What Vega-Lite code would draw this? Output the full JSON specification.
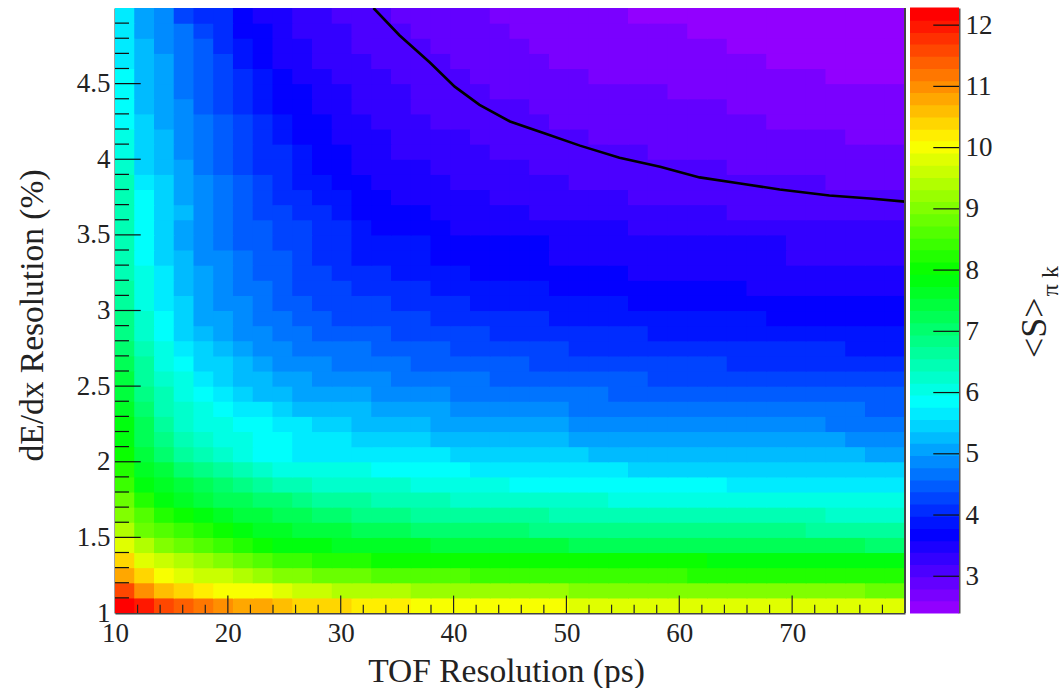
{"$schema":"https://vega.github.io/schema/vega-lite/v6.json","padding":{"left":15,"top":7,"right":0,"bottom":0},"background":"white","spacing":4,"config":{"view":{"stroke":null},"font":"Liberation Serif"},"datasets":{"cells":[
{"x":10.875,"y":1.05,"z":12.2},{"x":12.625,"y":1.05,"z":12},{"x":14.375,"y":1.05,"z":11.6},{"x":16.125,"y":1.05,"z":11.4},{"x":17.875,"y":1.05,"z":11.2},{"x":19.625,"y":1.05,"z":11},{"x":21.375,"y":1.05,"z":10.8},{"x":23.125,"y":1.05,"z":10.8},{"x":24.875,"y":1.05,"z":10.6},{"x":26.625,"y":1.05,"z":10.5},{"x":28.375,"y":1.05,"z":10.5},{"x":30.125,"y":1.05,"z":10.5},{"x":31.875,"y":1.05,"z":10.3},{"x":33.625,"y":1.05,"z":10.3},{"x":35.375,"y":1.05,"z":10.3},{"x":37.125,"y":1.05,"z":10.1},{"x":38.875,"y":1.05,"z":10.1},{"x":40.625,"y":1.05,"z":10.1},{"x":42.375,"y":1.05,"z":10.1},{"x":44.125,"y":1.05,"z":10.1},{"x":45.875,"y":1.05,"z":10.1},{"x":47.625,"y":1.05,"z":10.1},{"x":49.375,"y":1.05,"z":10.1},{"x":51.125,"y":1.05,"z":9.9},{"x":52.875,"y":1.05,"z":9.9},{"x":54.625,"y":1.05,"z":9.9},{"x":56.375,"y":1.05,"z":9.9},{"x":58.125,"y":1.05,"z":9.9},{"x":59.875,"y":1.05,"z":9.9},{"x":61.625,"y":1.05,"z":9.9},{"x":63.375,"y":1.05,"z":9.9},{"x":65.125,"y":1.05,"z":9.9},{"x":66.875,"y":1.05,"z":9.9},{"x":68.625,"y":1.05,"z":9.9},{"x":70.375,"y":1.05,"z":9.9},{"x":72.125,"y":1.05,"z":9.9},{"x":73.875,"y":1.05,"z":9.9},{"x":75.625,"y":1.05,"z":9.9},{"x":77.375,"y":1.05,"z":9.9},{"x":79.125,"y":1.05,"z":9.9},
{"x":10.875,"y":1.15,"z":11.6},{"x":12.625,"y":1.15,"z":11},{"x":14.375,"y":1.15,"z":10.6},{"x":16.125,"y":1.15,"z":10.5},{"x":17.875,"y":1.15,"z":10.3},{"x":19.625,"y":1.15,"z":10.1},{"x":21.375,"y":1.15,"z":10.1},{"x":23.125,"y":1.15,"z":10.1},{"x":24.875,"y":1.15,"z":9.9},{"x":26.625,"y":1.15,"z":9.7},{"x":28.375,"y":1.15,"z":9.7},{"x":30.125,"y":1.15,"z":9.5},{"x":31.875,"y":1.15,"z":9.5},{"x":33.625,"y":1.15,"z":9.5},{"x":35.375,"y":1.15,"z":9.5},{"x":37.125,"y":1.15,"z":9.3},{"x":38.875,"y":1.15,"z":9.3},{"x":40.625,"y":1.15,"z":9.3},{"x":42.375,"y":1.15,"z":9.3},{"x":44.125,"y":1.15,"z":9.3},{"x":45.875,"y":1.15,"z":9.3},{"x":47.625,"y":1.15,"z":9.3},{"x":49.375,"y":1.15,"z":9.3},{"x":51.125,"y":1.15,"z":9.1},{"x":52.875,"y":1.15,"z":9.1},{"x":54.625,"y":1.15,"z":9.1},{"x":56.375,"y":1.15,"z":9.1},{"x":58.125,"y":1.15,"z":9.1},{"x":59.875,"y":1.15,"z":9.1},{"x":61.625,"y":1.15,"z":9.1},{"x":63.375,"y":1.15,"z":9.1},{"x":65.125,"y":1.15,"z":9.1},{"x":66.875,"y":1.15,"z":9.1},{"x":68.625,"y":1.15,"z":9.1},{"x":70.375,"y":1.15,"z":9.1},{"x":72.125,"y":1.15,"z":9.1},{"x":73.875,"y":1.15,"z":9.1},{"x":75.625,"y":1.15,"z":9.1},{"x":77.375,"y":1.15,"z":8.9},{"x":79.125,"y":1.15,"z":8.9},
{"x":10.875,"y":1.25,"z":10.8},{"x":12.625,"y":1.25,"z":10.5},{"x":14.375,"y":1.25,"z":10.1},{"x":16.125,"y":1.25,"z":9.9},{"x":17.875,"y":1.25,"z":9.7},{"x":19.625,"y":1.25,"z":9.7},{"x":21.375,"y":1.25,"z":9.5},{"x":23.125,"y":1.25,"z":9.3},{"x":24.875,"y":1.25,"z":9.1},{"x":26.625,"y":1.25,"z":9.1},{"x":28.375,"y":1.25,"z":8.9},{"x":30.125,"y":1.25,"z":8.9},{"x":31.875,"y":1.25,"z":8.9},{"x":33.625,"y":1.25,"z":8.7},{"x":35.375,"y":1.25,"z":8.7},{"x":37.125,"y":1.25,"z":8.7},{"x":38.875,"y":1.25,"z":8.7},{"x":40.625,"y":1.25,"z":8.7},{"x":42.375,"y":1.25,"z":8.5},{"x":44.125,"y":1.25,"z":8.5},{"x":45.875,"y":1.25,"z":8.5},{"x":47.625,"y":1.25,"z":8.5},{"x":49.375,"y":1.25,"z":8.5},{"x":51.125,"y":1.25,"z":8.5},{"x":52.875,"y":1.25,"z":8.5},{"x":54.625,"y":1.25,"z":8.5},{"x":56.375,"y":1.25,"z":8.5},{"x":58.125,"y":1.25,"z":8.5},{"x":59.875,"y":1.25,"z":8.5},{"x":61.625,"y":1.25,"z":8.3},{"x":63.375,"y":1.25,"z":8.3},{"x":65.125,"y":1.25,"z":8.3},{"x":66.875,"y":1.25,"z":8.3},{"x":68.625,"y":1.25,"z":8.3},{"x":70.375,"y":1.25,"z":8.3},{"x":72.125,"y":1.25,"z":8.3},{"x":73.875,"y":1.25,"z":8.3},{"x":75.625,"y":1.25,"z":8.3},{"x":77.375,"y":1.25,"z":8.3},{"x":79.125,"y":1.25,"z":8.3},
{"x":10.875,"y":1.35,"z":10.5},{"x":12.625,"y":1.35,"z":9.9},{"x":14.375,"y":1.35,"z":9.7},{"x":16.125,"y":1.35,"z":9.5},{"x":17.875,"y":1.35,"z":9.3},{"x":19.625,"y":1.35,"z":9.1},{"x":21.375,"y":1.35,"z":8.9},{"x":23.125,"y":1.35,"z":8.7},{"x":24.875,"y":1.35,"z":8.5},{"x":26.625,"y":1.35,"z":8.5},{"x":28.375,"y":1.35,"z":8.3},{"x":30.125,"y":1.35,"z":8.3},{"x":31.875,"y":1.35,"z":8.3},{"x":33.625,"y":1.35,"z":8.1},{"x":35.375,"y":1.35,"z":8.1},{"x":37.125,"y":1.35,"z":8.1},{"x":38.875,"y":1.35,"z":8.1},{"x":40.625,"y":1.35,"z":8.1},{"x":42.375,"y":1.35,"z":8.1},{"x":44.125,"y":1.35,"z":8.1},{"x":45.875,"y":1.35,"z":8.1},{"x":47.625,"y":1.35,"z":8.1},{"x":49.375,"y":1.35,"z":8.1},{"x":51.125,"y":1.35,"z":8.1},{"x":52.875,"y":1.35,"z":8.1},{"x":54.625,"y":1.35,"z":8.1},{"x":56.375,"y":1.35,"z":8.1},{"x":58.125,"y":1.35,"z":8.1},{"x":59.875,"y":1.35,"z":8.1},{"x":61.625,"y":1.35,"z":8.1},{"x":63.375,"y":1.35,"z":7.9},{"x":65.125,"y":1.35,"z":7.9},{"x":66.875,"y":1.35,"z":7.9},{"x":68.625,"y":1.35,"z":7.9},{"x":70.375,"y":1.35,"z":7.9},{"x":72.125,"y":1.35,"z":7.9},{"x":73.875,"y":1.35,"z":7.9},{"x":75.625,"y":1.35,"z":7.9},{"x":77.375,"y":1.35,"z":7.9},{"x":79.125,"y":1.35,"z":7.9},
{"x":10.875,"y":1.45,"z":9.9},{"x":12.625,"y":1.45,"z":9.5},{"x":14.375,"y":1.45,"z":9.1},{"x":16.125,"y":1.45,"z":8.9},{"x":17.875,"y":1.45,"z":8.7},{"x":19.625,"y":1.45,"z":8.5},{"x":21.375,"y":1.45,"z":8.3},{"x":23.125,"y":1.45,"z":8.1},{"x":24.875,"y":1.45,"z":7.9},{"x":26.625,"y":1.45,"z":7.9},{"x":28.375,"y":1.45,"z":7.9},{"x":30.125,"y":1.45,"z":7.7},{"x":31.875,"y":1.45,"z":7.7},{"x":33.625,"y":1.45,"z":7.7},{"x":35.375,"y":1.45,"z":7.7},{"x":37.125,"y":1.45,"z":7.7},{"x":38.875,"y":1.45,"z":7.5},{"x":40.625,"y":1.45,"z":7.5},{"x":42.375,"y":1.45,"z":7.5},{"x":44.125,"y":1.45,"z":7.5},{"x":45.875,"y":1.45,"z":7.5},{"x":47.625,"y":1.45,"z":7.5},{"x":49.375,"y":1.45,"z":7.5},{"x":51.125,"y":1.45,"z":7.3},{"x":52.875,"y":1.45,"z":7.3},{"x":54.625,"y":1.45,"z":7.3},{"x":56.375,"y":1.45,"z":7.3},{"x":58.125,"y":1.45,"z":7.3},{"x":59.875,"y":1.45,"z":7.3},{"x":61.625,"y":1.45,"z":7.3},{"x":63.375,"y":1.45,"z":7.3},{"x":65.125,"y":1.45,"z":7.3},{"x":66.875,"y":1.45,"z":7.3},{"x":68.625,"y":1.45,"z":7.3},{"x":70.375,"y":1.45,"z":7.3},{"x":72.125,"y":1.45,"z":7.3},{"x":73.875,"y":1.45,"z":7.3},{"x":75.625,"y":1.45,"z":7.3},{"x":77.375,"y":1.45,"z":7.1},{"x":79.125,"y":1.45,"z":7.1},
{"x":10.875,"y":1.55,"z":9.5},{"x":12.625,"y":1.55,"z":8.9},{"x":14.375,"y":1.55,"z":8.7},{"x":16.125,"y":1.55,"z":8.5},{"x":17.875,"y":1.55,"z":8.3},{"x":19.625,"y":1.55,"z":8.1},{"x":21.375,"y":1.55,"z":7.9},{"x":23.125,"y":1.55,"z":7.7},{"x":24.875,"y":1.55,"z":7.7},{"x":26.625,"y":1.55,"z":7.5},{"x":28.375,"y":1.55,"z":7.5},{"x":30.125,"y":1.55,"z":7.5},{"x":31.875,"y":1.55,"z":7.3},{"x":33.625,"y":1.55,"z":7.3},{"x":35.375,"y":1.55,"z":7.3},{"x":37.125,"y":1.55,"z":7.1},{"x":38.875,"y":1.55,"z":7.1},{"x":40.625,"y":1.55,"z":7.1},{"x":42.375,"y":1.55,"z":7.1},{"x":44.125,"y":1.55,"z":7.1},{"x":45.875,"y":1.55,"z":7.1},{"x":47.625,"y":1.55,"z":6.9},{"x":49.375,"y":1.55,"z":6.9},{"x":51.125,"y":1.55,"z":6.9},{"x":52.875,"y":1.55,"z":6.9},{"x":54.625,"y":1.55,"z":6.9},{"x":56.375,"y":1.55,"z":6.9},{"x":58.125,"y":1.55,"z":6.9},{"x":59.875,"y":1.55,"z":6.9},{"x":61.625,"y":1.55,"z":6.9},{"x":63.375,"y":1.55,"z":6.9},{"x":65.125,"y":1.55,"z":6.9},{"x":66.875,"y":1.55,"z":6.9},{"x":68.625,"y":1.55,"z":6.9},{"x":70.375,"y":1.55,"z":6.9},{"x":72.125,"y":1.55,"z":6.7},{"x":73.875,"y":1.55,"z":6.7},{"x":75.625,"y":1.55,"z":6.7},{"x":77.375,"y":1.55,"z":6.7},{"x":79.125,"y":1.55,"z":6.7},
{"x":10.875,"y":1.65,"z":9.1},{"x":12.625,"y":1.65,"z":8.7},{"x":14.375,"y":1.65,"z":8.3},{"x":16.125,"y":1.65,"z":8.1},{"x":17.875,"y":1.65,"z":7.9},{"x":19.625,"y":1.65,"z":7.7},{"x":21.375,"y":1.65,"z":7.5},{"x":23.125,"y":1.65,"z":7.5},{"x":24.875,"y":1.65,"z":7.3},{"x":26.625,"y":1.65,"z":7.3},{"x":28.375,"y":1.65,"z":7.1},{"x":30.125,"y":1.65,"z":7.1},{"x":31.875,"y":1.65,"z":6.9},{"x":33.625,"y":1.65,"z":6.9},{"x":35.375,"y":1.65,"z":6.9},{"x":37.125,"y":1.65,"z":6.7},{"x":38.875,"y":1.65,"z":6.7},{"x":40.625,"y":1.65,"z":6.7},{"x":42.375,"y":1.65,"z":6.7},{"x":44.125,"y":1.65,"z":6.7},{"x":45.875,"y":1.65,"z":6.7},{"x":47.625,"y":1.65,"z":6.7},{"x":49.375,"y":1.65,"z":6.5},{"x":51.125,"y":1.65,"z":6.5},{"x":52.875,"y":1.65,"z":6.5},{"x":54.625,"y":1.65,"z":6.5},{"x":56.375,"y":1.65,"z":6.5},{"x":58.125,"y":1.65,"z":6.5},{"x":59.875,"y":1.65,"z":6.5},{"x":61.625,"y":1.65,"z":6.5},{"x":63.375,"y":1.65,"z":6.5},{"x":65.125,"y":1.65,"z":6.5},{"x":66.875,"y":1.65,"z":6.5},{"x":68.625,"y":1.65,"z":6.5},{"x":70.375,"y":1.65,"z":6.5},{"x":72.125,"y":1.65,"z":6.5},{"x":73.875,"y":1.65,"z":6.3},{"x":75.625,"y":1.65,"z":6.3},{"x":77.375,"y":1.65,"z":6.3},{"x":79.125,"y":1.65,"z":6.3},
{"x":10.875,"y":1.75,"z":8.9},{"x":12.625,"y":1.75,"z":8.3},{"x":14.375,"y":1.75,"z":7.9},{"x":16.125,"y":1.75,"z":7.7},{"x":17.875,"y":1.75,"z":7.5},{"x":19.625,"y":1.75,"z":7.3},{"x":21.375,"y":1.75,"z":7.3},{"x":23.125,"y":1.75,"z":7.1},{"x":24.875,"y":1.75,"z":7.1},{"x":26.625,"y":1.75,"z":6.9},{"x":28.375,"y":1.75,"z":6.7},{"x":30.125,"y":1.75,"z":6.7},{"x":31.875,"y":1.75,"z":6.7},{"x":33.625,"y":1.75,"z":6.5},{"x":35.375,"y":1.75,"z":6.5},{"x":37.125,"y":1.75,"z":6.5},{"x":38.875,"y":1.75,"z":6.5},{"x":40.625,"y":1.75,"z":6.3},{"x":42.375,"y":1.75,"z":6.3},{"x":44.125,"y":1.75,"z":6.3},{"x":45.875,"y":1.75,"z":6.3},{"x":47.625,"y":1.75,"z":6.3},{"x":49.375,"y":1.75,"z":6.3},{"x":51.125,"y":1.75,"z":6.3},{"x":52.875,"y":1.75,"z":6.3},{"x":54.625,"y":1.75,"z":6.1},{"x":56.375,"y":1.75,"z":6.1},{"x":58.125,"y":1.75,"z":6.1},{"x":59.875,"y":1.75,"z":6.1},{"x":61.625,"y":1.75,"z":6.1},{"x":63.375,"y":1.75,"z":6.1},{"x":65.125,"y":1.75,"z":6.1},{"x":66.875,"y":1.75,"z":6.1},{"x":68.625,"y":1.75,"z":6.1},{"x":70.375,"y":1.75,"z":6.1},{"x":72.125,"y":1.75,"z":6.1},{"x":73.875,"y":1.75,"z":6.1},{"x":75.625,"y":1.75,"z":6.1},{"x":77.375,"y":1.75,"z":6.1},{"x":79.125,"y":1.75,"z":6.1},
{"x":10.875,"y":1.85,"z":8.5},{"x":12.625,"y":1.85,"z":7.9},{"x":14.375,"y":1.85,"z":7.7},{"x":16.125,"y":1.85,"z":7.5},{"x":17.875,"y":1.85,"z":7.3},{"x":19.625,"y":1.85,"z":7.1},{"x":21.375,"y":1.85,"z":6.9},{"x":23.125,"y":1.85,"z":6.7},{"x":24.875,"y":1.85,"z":6.5},{"x":26.625,"y":1.85,"z":6.5},{"x":28.375,"y":1.85,"z":6.3},{"x":30.125,"y":1.85,"z":6.3},{"x":31.875,"y":1.85,"z":6.3},{"x":33.625,"y":1.85,"z":6.3},{"x":35.375,"y":1.85,"z":6.3},{"x":37.125,"y":1.85,"z":6.1},{"x":38.875,"y":1.85,"z":6.1},{"x":40.625,"y":1.85,"z":6.1},{"x":42.375,"y":1.85,"z":6.1},{"x":44.125,"y":1.85,"z":6.1},{"x":45.875,"y":1.85,"z":5.9},{"x":47.625,"y":1.85,"z":5.9},{"x":49.375,"y":1.85,"z":5.9},{"x":51.125,"y":1.85,"z":5.9},{"x":52.875,"y":1.85,"z":5.9},{"x":54.625,"y":1.85,"z":5.9},{"x":56.375,"y":1.85,"z":5.9},{"x":58.125,"y":1.85,"z":5.9},{"x":59.875,"y":1.85,"z":5.9},{"x":61.625,"y":1.85,"z":5.9},{"x":63.375,"y":1.85,"z":5.9},{"x":65.125,"y":1.85,"z":5.7},{"x":66.875,"y":1.85,"z":5.7},{"x":68.625,"y":1.85,"z":5.7},{"x":70.375,"y":1.85,"z":5.7},{"x":72.125,"y":1.85,"z":5.7},{"x":73.875,"y":1.85,"z":5.7},{"x":75.625,"y":1.85,"z":5.7},{"x":77.375,"y":1.85,"z":5.7},{"x":79.125,"y":1.85,"z":5.7},
{"x":10.875,"y":1.95,"z":8.3},{"x":12.625,"y":1.95,"z":7.7},{"x":14.375,"y":1.95,"z":7.5},{"x":16.125,"y":1.95,"z":7.1},{"x":17.875,"y":1.95,"z":6.9},{"x":19.625,"y":1.95,"z":6.7},{"x":21.375,"y":1.95,"z":6.5},{"x":23.125,"y":1.95,"z":6.3},{"x":24.875,"y":1.95,"z":6.1},{"x":26.625,"y":1.95,"z":6.1},{"x":28.375,"y":1.95,"z":6.1},{"x":30.125,"y":1.95,"z":6.1},{"x":31.875,"y":1.95,"z":6.1},{"x":33.625,"y":1.95,"z":5.9},{"x":35.375,"y":1.95,"z":5.9},{"x":37.125,"y":1.95,"z":5.9},{"x":38.875,"y":1.95,"z":5.9},{"x":40.625,"y":1.95,"z":5.9},{"x":42.375,"y":1.95,"z":5.7},{"x":44.125,"y":1.95,"z":5.7},{"x":45.875,"y":1.95,"z":5.7},{"x":47.625,"y":1.95,"z":5.7},{"x":49.375,"y":1.95,"z":5.7},{"x":51.125,"y":1.95,"z":5.7},{"x":52.875,"y":1.95,"z":5.7},{"x":54.625,"y":1.95,"z":5.7},{"x":56.375,"y":1.95,"z":5.5},{"x":58.125,"y":1.95,"z":5.5},{"x":59.875,"y":1.95,"z":5.5},{"x":61.625,"y":1.95,"z":5.5},{"x":63.375,"y":1.95,"z":5.5},{"x":65.125,"y":1.95,"z":5.5},{"x":66.875,"y":1.95,"z":5.5},{"x":68.625,"y":1.95,"z":5.5},{"x":70.375,"y":1.95,"z":5.5},{"x":72.125,"y":1.95,"z":5.5},{"x":73.875,"y":1.95,"z":5.5},{"x":75.625,"y":1.95,"z":5.5},{"x":77.375,"y":1.95,"z":5.5},{"x":79.125,"y":1.95,"z":5.5},
{"x":10.875,"y":2.05,"z":8.1},{"x":12.625,"y":2.05,"z":7.5},{"x":14.375,"y":2.05,"z":7.1},{"x":16.125,"y":2.05,"z":6.7},{"x":17.875,"y":2.05,"z":6.5},{"x":19.625,"y":2.05,"z":6.3},{"x":21.375,"y":2.05,"z":6.1},{"x":23.125,"y":2.05,"z":5.9},{"x":24.875,"y":2.05,"z":5.9},{"x":26.625,"y":2.05,"z":5.7},{"x":28.375,"y":2.05,"z":5.7},{"x":30.125,"y":2.05,"z":5.7},{"x":31.875,"y":2.05,"z":5.7},{"x":33.625,"y":2.05,"z":5.7},{"x":35.375,"y":2.05,"z":5.7},{"x":37.125,"y":2.05,"z":5.7},{"x":38.875,"y":2.05,"z":5.7},{"x":40.625,"y":2.05,"z":5.5},{"x":42.375,"y":2.05,"z":5.5},{"x":44.125,"y":2.05,"z":5.5},{"x":45.875,"y":2.05,"z":5.5},{"x":47.625,"y":2.05,"z":5.5},{"x":49.375,"y":2.05,"z":5.5},{"x":51.125,"y":2.05,"z":5.5},{"x":52.875,"y":2.05,"z":5.3},{"x":54.625,"y":2.05,"z":5.3},{"x":56.375,"y":2.05,"z":5.3},{"x":58.125,"y":2.05,"z":5.3},{"x":59.875,"y":2.05,"z":5.3},{"x":61.625,"y":2.05,"z":5.3},{"x":63.375,"y":2.05,"z":5.3},{"x":65.125,"y":2.05,"z":5.3},{"x":66.875,"y":2.05,"z":5.3},{"x":68.625,"y":2.05,"z":5.3},{"x":70.375,"y":2.05,"z":5.3},{"x":72.125,"y":2.05,"z":5.3},{"x":73.875,"y":2.05,"z":5.3},{"x":75.625,"y":2.05,"z":5.3},{"x":77.375,"y":2.05,"z":5.1},{"x":79.125,"y":2.05,"z":5.1},
{"x":10.875,"y":2.15,"z":7.9},{"x":12.625,"y":2.15,"z":7.3},{"x":14.375,"y":2.15,"z":6.9},{"x":16.125,"y":2.15,"z":6.5},{"x":17.875,"y":2.15,"z":6.3},{"x":19.625,"y":2.15,"z":6.1},{"x":21.375,"y":2.15,"z":6.1},{"x":23.125,"y":2.15,"z":5.9},{"x":24.875,"y":2.15,"z":5.9},{"x":26.625,"y":2.15,"z":5.7},{"x":28.375,"y":2.15,"z":5.7},{"x":30.125,"y":2.15,"z":5.7},{"x":31.875,"y":2.15,"z":5.5},{"x":33.625,"y":2.15,"z":5.5},{"x":35.375,"y":2.15,"z":5.5},{"x":37.125,"y":2.15,"z":5.5},{"x":38.875,"y":2.15,"z":5.3},{"x":40.625,"y":2.15,"z":5.3},{"x":42.375,"y":2.15,"z":5.3},{"x":44.125,"y":2.15,"z":5.3},{"x":45.875,"y":2.15,"z":5.3},{"x":47.625,"y":2.15,"z":5.3},{"x":49.375,"y":2.15,"z":5.3},{"x":51.125,"y":2.15,"z":5.1},{"x":52.875,"y":2.15,"z":5.1},{"x":54.625,"y":2.15,"z":5.1},{"x":56.375,"y":2.15,"z":5.1},{"x":58.125,"y":2.15,"z":5.1},{"x":59.875,"y":2.15,"z":5.1},{"x":61.625,"y":2.15,"z":5.1},{"x":63.375,"y":2.15,"z":5.1},{"x":65.125,"y":2.15,"z":5.1},{"x":66.875,"y":2.15,"z":5.1},{"x":68.625,"y":2.15,"z":5.1},{"x":70.375,"y":2.15,"z":5.1},{"x":72.125,"y":2.15,"z":5.1},{"x":73.875,"y":2.15,"z":5.1},{"x":75.625,"y":2.15,"z":4.9},{"x":77.375,"y":2.15,"z":4.9},{"x":79.125,"y":2.15,"z":4.9},
{"x":10.875,"y":2.25,"z":7.9},{"x":12.625,"y":2.25,"z":7.3},{"x":14.375,"y":2.25,"z":6.7},{"x":16.125,"y":2.25,"z":6.3},{"x":17.875,"y":2.25,"z":6.1},{"x":19.625,"y":2.25,"z":6.1},{"x":21.375,"y":2.25,"z":5.9},{"x":23.125,"y":2.25,"z":5.9},{"x":24.875,"y":2.25,"z":5.7},{"x":26.625,"y":2.25,"z":5.7},{"x":28.375,"y":2.25,"z":5.5},{"x":30.125,"y":2.25,"z":5.5},{"x":31.875,"y":2.25,"z":5.3},{"x":33.625,"y":2.25,"z":5.3},{"x":35.375,"y":2.25,"z":5.3},{"x":37.125,"y":2.25,"z":5.3},{"x":38.875,"y":2.25,"z":5.1},{"x":40.625,"y":2.25,"z":5.1},{"x":42.375,"y":2.25,"z":5.1},{"x":44.125,"y":2.25,"z":5.1},{"x":45.875,"y":2.25,"z":5.1},{"x":47.625,"y":2.25,"z":5.1},{"x":49.375,"y":2.25,"z":5.1},{"x":51.125,"y":2.25,"z":4.9},{"x":52.875,"y":2.25,"z":4.9},{"x":54.625,"y":2.25,"z":4.9},{"x":56.375,"y":2.25,"z":4.9},{"x":58.125,"y":2.25,"z":4.9},{"x":59.875,"y":2.25,"z":4.9},{"x":61.625,"y":2.25,"z":4.9},{"x":63.375,"y":2.25,"z":4.9},{"x":65.125,"y":2.25,"z":4.9},{"x":66.875,"y":2.25,"z":4.9},{"x":68.625,"y":2.25,"z":4.9},{"x":70.375,"y":2.25,"z":4.9},{"x":72.125,"y":2.25,"z":4.9},{"x":73.875,"y":2.25,"z":4.7},{"x":75.625,"y":2.25,"z":4.7},{"x":77.375,"y":2.25,"z":4.7},{"x":79.125,"y":2.25,"z":4.7},
{"x":10.875,"y":2.35,"z":7.7},{"x":12.625,"y":2.35,"z":7.1},{"x":14.375,"y":2.35,"z":6.5},{"x":16.125,"y":2.35,"z":6.3},{"x":17.875,"y":2.35,"z":6.1},{"x":19.625,"y":2.35,"z":5.9},{"x":21.375,"y":2.35,"z":5.7},{"x":23.125,"y":2.35,"z":5.7},{"x":24.875,"y":2.35,"z":5.5},{"x":26.625,"y":2.35,"z":5.3},{"x":28.375,"y":2.35,"z":5.3},{"x":30.125,"y":2.35,"z":5.3},{"x":31.875,"y":2.35,"z":5.3},{"x":33.625,"y":2.35,"z":5.1},{"x":35.375,"y":2.35,"z":5.1},{"x":37.125,"y":2.35,"z":5.1},{"x":38.875,"y":2.35,"z":5.1},{"x":40.625,"y":2.35,"z":4.9},{"x":42.375,"y":2.35,"z":4.9},{"x":44.125,"y":2.35,"z":4.9},{"x":45.875,"y":2.35,"z":4.9},{"x":47.625,"y":2.35,"z":4.9},{"x":49.375,"y":2.35,"z":4.9},{"x":51.125,"y":2.35,"z":4.7},{"x":52.875,"y":2.35,"z":4.7},{"x":54.625,"y":2.35,"z":4.7},{"x":56.375,"y":2.35,"z":4.7},{"x":58.125,"y":2.35,"z":4.7},{"x":59.875,"y":2.35,"z":4.7},{"x":61.625,"y":2.35,"z":4.7},{"x":63.375,"y":2.35,"z":4.7},{"x":65.125,"y":2.35,"z":4.7},{"x":66.875,"y":2.35,"z":4.7},{"x":68.625,"y":2.35,"z":4.7},{"x":70.375,"y":2.35,"z":4.7},{"x":72.125,"y":2.35,"z":4.7},{"x":73.875,"y":2.35,"z":4.7},{"x":75.625,"y":2.35,"z":4.7},{"x":77.375,"y":2.35,"z":4.5},{"x":79.125,"y":2.35,"z":4.5},
{"x":10.875,"y":2.45,"z":7.5},{"x":12.625,"y":2.45,"z":6.9},{"x":14.375,"y":2.45,"z":6.5},{"x":16.125,"y":2.45,"z":6.1},{"x":17.875,"y":2.45,"z":5.9},{"x":19.625,"y":2.45,"z":5.7},{"x":21.375,"y":2.45,"z":5.5},{"x":23.125,"y":2.45,"z":5.3},{"x":24.875,"y":2.45,"z":5.3},{"x":26.625,"y":2.45,"z":5.1},{"x":28.375,"y":2.45,"z":5.1},{"x":30.125,"y":2.45,"z":5.1},{"x":31.875,"y":2.45,"z":5.1},{"x":33.625,"y":2.45,"z":4.9},{"x":35.375,"y":2.45,"z":4.9},{"x":37.125,"y":2.45,"z":4.9},{"x":38.875,"y":2.45,"z":4.9},{"x":40.625,"y":2.45,"z":4.7},{"x":42.375,"y":2.45,"z":4.7},{"x":44.125,"y":2.45,"z":4.7},{"x":45.875,"y":2.45,"z":4.7},{"x":47.625,"y":2.45,"z":4.7},{"x":49.375,"y":2.45,"z":4.7},{"x":51.125,"y":2.45,"z":4.7},{"x":52.875,"y":2.45,"z":4.7},{"x":54.625,"y":2.45,"z":4.5},{"x":56.375,"y":2.45,"z":4.5},{"x":58.125,"y":2.45,"z":4.5},{"x":59.875,"y":2.45,"z":4.5},{"x":61.625,"y":2.45,"z":4.5},{"x":63.375,"y":2.45,"z":4.5},{"x":65.125,"y":2.45,"z":4.5},{"x":66.875,"y":2.45,"z":4.5},{"x":68.625,"y":2.45,"z":4.5},{"x":70.375,"y":2.45,"z":4.5},{"x":72.125,"y":2.45,"z":4.5},{"x":73.875,"y":2.45,"z":4.5},{"x":75.625,"y":2.45,"z":4.5},{"x":77.375,"y":2.45,"z":4.5},{"x":79.125,"y":2.45,"z":4.5},
{"x":10.875,"y":2.55,"z":7.5},{"x":12.625,"y":2.55,"z":6.7},{"x":14.375,"y":2.55,"z":6.3},{"x":16.125,"y":2.55,"z":6.1},{"x":17.875,"y":2.55,"z":5.7},{"x":19.625,"y":2.55,"z":5.5},{"x":21.375,"y":2.55,"z":5.3},{"x":23.125,"y":2.55,"z":5.3},{"x":24.875,"y":2.55,"z":5.1},{"x":26.625,"y":2.55,"z":5.1},{"x":28.375,"y":2.55,"z":4.9},{"x":30.125,"y":2.55,"z":4.9},{"x":31.875,"y":2.55,"z":4.9},{"x":33.625,"y":2.55,"z":4.9},{"x":35.375,"y":2.55,"z":4.7},{"x":37.125,"y":2.55,"z":4.7},{"x":38.875,"y":2.55,"z":4.7},{"x":40.625,"y":2.55,"z":4.7},{"x":42.375,"y":2.55,"z":4.7},{"x":44.125,"y":2.55,"z":4.5},{"x":45.875,"y":2.55,"z":4.5},{"x":47.625,"y":2.55,"z":4.5},{"x":49.375,"y":2.55,"z":4.5},{"x":51.125,"y":2.55,"z":4.5},{"x":52.875,"y":2.55,"z":4.5},{"x":54.625,"y":2.55,"z":4.5},{"x":56.375,"y":2.55,"z":4.5},{"x":58.125,"y":2.55,"z":4.3},{"x":59.875,"y":2.55,"z":4.3},{"x":61.625,"y":2.55,"z":4.3},{"x":63.375,"y":2.55,"z":4.3},{"x":65.125,"y":2.55,"z":4.3},{"x":66.875,"y":2.55,"z":4.3},{"x":68.625,"y":2.55,"z":4.3},{"x":70.375,"y":2.55,"z":4.3},{"x":72.125,"y":2.55,"z":4.3},{"x":73.875,"y":2.55,"z":4.3},{"x":75.625,"y":2.55,"z":4.3},{"x":77.375,"y":2.55,"z":4.3},{"x":79.125,"y":2.55,"z":4.3},
{"x":10.875,"y":2.65,"z":7.3},{"x":12.625,"y":2.65,"z":6.7},{"x":14.375,"y":2.65,"z":6.1},{"x":16.125,"y":2.65,"z":5.9},{"x":17.875,"y":2.65,"z":5.5},{"x":19.625,"y":2.65,"z":5.5},{"x":21.375,"y":2.65,"z":5.3},{"x":23.125,"y":2.65,"z":5.1},{"x":24.875,"y":2.65,"z":4.9},{"x":26.625,"y":2.65,"z":4.9},{"x":28.375,"y":2.65,"z":4.9},{"x":30.125,"y":2.65,"z":4.7},{"x":31.875,"y":2.65,"z":4.7},{"x":33.625,"y":2.65,"z":4.7},{"x":35.375,"y":2.65,"z":4.7},{"x":37.125,"y":2.65,"z":4.5},{"x":38.875,"y":2.65,"z":4.5},{"x":40.625,"y":2.65,"z":4.5},{"x":42.375,"y":2.65,"z":4.5},{"x":44.125,"y":2.65,"z":4.5},{"x":45.875,"y":2.65,"z":4.5},{"x":47.625,"y":2.65,"z":4.3},{"x":49.375,"y":2.65,"z":4.3},{"x":51.125,"y":2.65,"z":4.3},{"x":52.875,"y":2.65,"z":4.3},{"x":54.625,"y":2.65,"z":4.3},{"x":56.375,"y":2.65,"z":4.3},{"x":58.125,"y":2.65,"z":4.3},{"x":59.875,"y":2.65,"z":4.3},{"x":61.625,"y":2.65,"z":4.3},{"x":63.375,"y":2.65,"z":4.3},{"x":65.125,"y":2.65,"z":4.1},{"x":66.875,"y":2.65,"z":4.1},{"x":68.625,"y":2.65,"z":4.1},{"x":70.375,"y":2.65,"z":4.1},{"x":72.125,"y":2.65,"z":4.1},{"x":73.875,"y":2.65,"z":4.1},{"x":75.625,"y":2.65,"z":4.1},{"x":77.375,"y":2.65,"z":4.1},{"x":79.125,"y":2.65,"z":4.1},
{"x":10.875,"y":2.75,"z":7.1},{"x":12.625,"y":2.75,"z":6.5},{"x":14.375,"y":2.75,"z":6.1},{"x":16.125,"y":2.75,"z":5.7},{"x":17.875,"y":2.75,"z":5.5},{"x":19.625,"y":2.75,"z":5.3},{"x":21.375,"y":2.75,"z":5.1},{"x":23.125,"y":2.75,"z":4.9},{"x":24.875,"y":2.75,"z":4.9},{"x":26.625,"y":2.75,"z":4.7},{"x":28.375,"y":2.75,"z":4.7},{"x":30.125,"y":2.75,"z":4.7},{"x":31.875,"y":2.75,"z":4.7},{"x":33.625,"y":2.75,"z":4.5},{"x":35.375,"y":2.75,"z":4.5},{"x":37.125,"y":2.75,"z":4.5},{"x":38.875,"y":2.75,"z":4.5},{"x":40.625,"y":2.75,"z":4.3},{"x":42.375,"y":2.75,"z":4.3},{"x":44.125,"y":2.75,"z":4.3},{"x":45.875,"y":2.75,"z":4.3},{"x":47.625,"y":2.75,"z":4.3},{"x":49.375,"y":2.75,"z":4.3},{"x":51.125,"y":2.75,"z":4.1},{"x":52.875,"y":2.75,"z":4.1},{"x":54.625,"y":2.75,"z":4.1},{"x":56.375,"y":2.75,"z":4.1},{"x":58.125,"y":2.75,"z":4.1},{"x":59.875,"y":2.75,"z":4.1},{"x":61.625,"y":2.75,"z":4.1},{"x":63.375,"y":2.75,"z":4.1},{"x":65.125,"y":2.75,"z":4.1},{"x":66.875,"y":2.75,"z":4.1},{"x":68.625,"y":2.75,"z":4.1},{"x":70.375,"y":2.75,"z":4.1},{"x":72.125,"y":2.75,"z":4.1},{"x":73.875,"y":2.75,"z":4.1},{"x":75.625,"y":2.75,"z":3.9},{"x":77.375,"y":2.75,"z":3.9},{"x":79.125,"y":2.75,"z":3.9},
{"x":10.875,"y":2.85,"z":6.9},{"x":12.625,"y":2.85,"z":6.3},{"x":14.375,"y":2.85,"z":5.9},{"x":16.125,"y":2.85,"z":5.5},{"x":17.875,"y":2.85,"z":5.3},{"x":19.625,"y":2.85,"z":5.1},{"x":21.375,"y":2.85,"z":4.9},{"x":23.125,"y":2.85,"z":4.9},{"x":24.875,"y":2.85,"z":4.7},{"x":26.625,"y":2.85,"z":4.7},{"x":28.375,"y":2.85,"z":4.5},{"x":30.125,"y":2.85,"z":4.5},{"x":31.875,"y":2.85,"z":4.5},{"x":33.625,"y":2.85,"z":4.5},{"x":35.375,"y":2.85,"z":4.3},{"x":37.125,"y":2.85,"z":4.3},{"x":38.875,"y":2.85,"z":4.3},{"x":40.625,"y":2.85,"z":4.3},{"x":42.375,"y":2.85,"z":4.3},{"x":44.125,"y":2.85,"z":4.1},{"x":45.875,"y":2.85,"z":4.1},{"x":47.625,"y":2.85,"z":4.1},{"x":49.375,"y":2.85,"z":4.1},{"x":51.125,"y":2.85,"z":4.1},{"x":52.875,"y":2.85,"z":4.1},{"x":54.625,"y":2.85,"z":4.1},{"x":56.375,"y":2.85,"z":4.1},{"x":58.125,"y":2.85,"z":3.9},{"x":59.875,"y":2.85,"z":3.9},{"x":61.625,"y":2.85,"z":3.9},{"x":63.375,"y":2.85,"z":3.9},{"x":65.125,"y":2.85,"z":3.9},{"x":66.875,"y":2.85,"z":3.9},{"x":68.625,"y":2.85,"z":3.9},{"x":70.375,"y":2.85,"z":3.9},{"x":72.125,"y":2.85,"z":3.9},{"x":73.875,"y":2.85,"z":3.9},{"x":75.625,"y":2.85,"z":3.9},{"x":77.375,"y":2.85,"z":3.9},{"x":79.125,"y":2.85,"z":3.9},
{"x":10.875,"y":2.95,"z":6.9},{"x":12.625,"y":2.95,"z":6.3},{"x":14.375,"y":2.95,"z":5.9},{"x":16.125,"y":2.95,"z":5.5},{"x":17.875,"y":2.95,"z":5.1},{"x":19.625,"y":2.95,"z":5.1},{"x":21.375,"y":2.95,"z":4.9},{"x":23.125,"y":2.95,"z":4.7},{"x":24.875,"y":2.95,"z":4.7},{"x":26.625,"y":2.95,"z":4.5},{"x":28.375,"y":2.95,"z":4.5},{"x":30.125,"y":2.95,"z":4.3},{"x":31.875,"y":2.95,"z":4.3},{"x":33.625,"y":2.95,"z":4.3},{"x":35.375,"y":2.95,"z":4.3},{"x":37.125,"y":2.95,"z":4.3},{"x":38.875,"y":2.95,"z":4.1},{"x":40.625,"y":2.95,"z":4.1},{"x":42.375,"y":2.95,"z":4.1},{"x":44.125,"y":2.95,"z":4.1},{"x":45.875,"y":2.95,"z":4.1},{"x":47.625,"y":2.95,"z":4.1},{"x":49.375,"y":2.95,"z":3.9},{"x":51.125,"y":2.95,"z":3.9},{"x":52.875,"y":2.95,"z":3.9},{"x":54.625,"y":2.95,"z":3.9},{"x":56.375,"y":2.95,"z":3.9},{"x":58.125,"y":2.95,"z":3.9},{"x":59.875,"y":2.95,"z":3.9},{"x":61.625,"y":2.95,"z":3.9},{"x":63.375,"y":2.95,"z":3.9},{"x":65.125,"y":2.95,"z":3.9},{"x":66.875,"y":2.95,"z":3.9},{"x":68.625,"y":2.95,"z":3.7},{"x":70.375,"y":2.95,"z":3.7},{"x":72.125,"y":2.95,"z":3.7},{"x":73.875,"y":2.95,"z":3.7},{"x":75.625,"y":2.95,"z":3.7},{"x":77.375,"y":2.95,"z":3.7},{"x":79.125,"y":2.95,"z":3.7},
{"x":10.875,"y":3.05,"z":6.7},{"x":12.625,"y":3.05,"z":6.1},{"x":14.375,"y":3.05,"z":5.7},{"x":16.125,"y":3.05,"z":5.5},{"x":17.875,"y":3.05,"z":5.1},{"x":19.625,"y":3.05,"z":4.9},{"x":21.375,"y":3.05,"z":4.9},{"x":23.125,"y":3.05,"z":4.7},{"x":24.875,"y":3.05,"z":4.5},{"x":26.625,"y":3.05,"z":4.5},{"x":28.375,"y":3.05,"z":4.3},{"x":30.125,"y":3.05,"z":4.3},{"x":31.875,"y":3.05,"z":4.3},{"x":33.625,"y":3.05,"z":4.3},{"x":35.375,"y":3.05,"z":4.1},{"x":37.125,"y":3.05,"z":4.1},{"x":38.875,"y":3.05,"z":4.1},{"x":40.625,"y":3.05,"z":4.1},{"x":42.375,"y":3.05,"z":3.9},{"x":44.125,"y":3.05,"z":3.9},{"x":45.875,"y":3.05,"z":3.9},{"x":47.625,"y":3.05,"z":3.9},{"x":49.375,"y":3.05,"z":3.9},{"x":51.125,"y":3.05,"z":3.9},{"x":52.875,"y":3.05,"z":3.9},{"x":54.625,"y":3.05,"z":3.9},{"x":56.375,"y":3.05,"z":3.7},{"x":58.125,"y":3.05,"z":3.7},{"x":59.875,"y":3.05,"z":3.7},{"x":61.625,"y":3.05,"z":3.7},{"x":63.375,"y":3.05,"z":3.7},{"x":65.125,"y":3.05,"z":3.7},{"x":66.875,"y":3.05,"z":3.7},{"x":68.625,"y":3.05,"z":3.7},{"x":70.375,"y":3.05,"z":3.7},{"x":72.125,"y":3.05,"z":3.7},{"x":73.875,"y":3.05,"z":3.7},{"x":75.625,"y":3.05,"z":3.7},{"x":77.375,"y":3.05,"z":3.7},{"x":79.125,"y":3.05,"z":3.7},
{"x":10.875,"y":3.15,"z":6.7},{"x":12.625,"y":3.15,"z":6.1},{"x":14.375,"y":3.15,"z":5.7},{"x":16.125,"y":3.15,"z":5.3},{"x":17.875,"y":3.15,"z":5.1},{"x":19.625,"y":3.15,"z":4.9},{"x":21.375,"y":3.15,"z":4.7},{"x":23.125,"y":3.15,"z":4.7},{"x":24.875,"y":3.15,"z":4.5},{"x":26.625,"y":3.15,"z":4.3},{"x":28.375,"y":3.15,"z":4.3},{"x":30.125,"y":3.15,"z":4.3},{"x":31.875,"y":3.15,"z":4.1},{"x":33.625,"y":3.15,"z":4.1},{"x":35.375,"y":3.15,"z":4.1},{"x":37.125,"y":3.15,"z":4.1},{"x":38.875,"y":3.15,"z":3.9},{"x":40.625,"y":3.15,"z":3.9},{"x":42.375,"y":3.15,"z":3.9},{"x":44.125,"y":3.15,"z":3.9},{"x":45.875,"y":3.15,"z":3.9},{"x":47.625,"y":3.15,"z":3.9},{"x":49.375,"y":3.15,"z":3.7},{"x":51.125,"y":3.15,"z":3.7},{"x":52.875,"y":3.15,"z":3.7},{"x":54.625,"y":3.15,"z":3.7},{"x":56.375,"y":3.15,"z":3.7},{"x":58.125,"y":3.15,"z":3.7},{"x":59.875,"y":3.15,"z":3.7},{"x":61.625,"y":3.15,"z":3.7},{"x":63.375,"y":3.15,"z":3.7},{"x":65.125,"y":3.15,"z":3.7},{"x":66.875,"y":3.15,"z":3.5},{"x":68.625,"y":3.15,"z":3.5},{"x":70.375,"y":3.15,"z":3.5},{"x":72.125,"y":3.15,"z":3.5},{"x":73.875,"y":3.15,"z":3.5},{"x":75.625,"y":3.15,"z":3.5},{"x":77.375,"y":3.15,"z":3.5},{"x":79.125,"y":3.15,"z":3.5},
{"x":10.875,"y":3.25,"z":6.5},{"x":12.625,"y":3.25,"z":6.1},{"x":14.375,"y":3.25,"z":5.7},{"x":16.125,"y":3.25,"z":5.3},{"x":17.875,"y":3.25,"z":5.1},{"x":19.625,"y":3.25,"z":4.9},{"x":21.375,"y":3.25,"z":4.7},{"x":23.125,"y":3.25,"z":4.5},{"x":24.875,"y":3.25,"z":4.5},{"x":26.625,"y":3.25,"z":4.3},{"x":28.375,"y":3.25,"z":4.3},{"x":30.125,"y":3.25,"z":4.1},{"x":31.875,"y":3.25,"z":4.1},{"x":33.625,"y":3.25,"z":4.1},{"x":35.375,"y":3.25,"z":3.9},{"x":37.125,"y":3.25,"z":3.9},{"x":38.875,"y":3.25,"z":3.9},{"x":40.625,"y":3.25,"z":3.9},{"x":42.375,"y":3.25,"z":3.7},{"x":44.125,"y":3.25,"z":3.7},{"x":45.875,"y":3.25,"z":3.7},{"x":47.625,"y":3.25,"z":3.7},{"x":49.375,"y":3.25,"z":3.7},{"x":51.125,"y":3.25,"z":3.7},{"x":52.875,"y":3.25,"z":3.7},{"x":54.625,"y":3.25,"z":3.7},{"x":56.375,"y":3.25,"z":3.5},{"x":58.125,"y":3.25,"z":3.5},{"x":59.875,"y":3.25,"z":3.5},{"x":61.625,"y":3.25,"z":3.5},{"x":63.375,"y":3.25,"z":3.5},{"x":65.125,"y":3.25,"z":3.5},{"x":66.875,"y":3.25,"z":3.5},{"x":68.625,"y":3.25,"z":3.5},{"x":70.375,"y":3.25,"z":3.5},{"x":72.125,"y":3.25,"z":3.5},{"x":73.875,"y":3.25,"z":3.5},{"x":75.625,"y":3.25,"z":3.5},{"x":77.375,"y":3.25,"z":3.5},{"x":79.125,"y":3.25,"z":3.5},
{"x":10.875,"y":3.35,"z":6.5},{"x":12.625,"y":3.35,"z":5.9},{"x":14.375,"y":3.35,"z":5.5},{"x":16.125,"y":3.35,"z":5.3},{"x":17.875,"y":3.35,"z":4.9},{"x":19.625,"y":3.35,"z":4.9},{"x":21.375,"y":3.35,"z":4.7},{"x":23.125,"y":3.35,"z":4.5},{"x":24.875,"y":3.35,"z":4.5},{"x":26.625,"y":3.35,"z":4.3},{"x":28.375,"y":3.35,"z":4.1},{"x":30.125,"y":3.35,"z":4.1},{"x":31.875,"y":3.35,"z":3.9},{"x":33.625,"y":3.35,"z":3.9},{"x":35.375,"y":3.35,"z":3.9},{"x":37.125,"y":3.35,"z":3.9},{"x":38.875,"y":3.35,"z":3.7},{"x":40.625,"y":3.35,"z":3.7},{"x":42.375,"y":3.35,"z":3.7},{"x":44.125,"y":3.35,"z":3.7},{"x":45.875,"y":3.35,"z":3.7},{"x":47.625,"y":3.35,"z":3.7},{"x":49.375,"y":3.35,"z":3.5},{"x":51.125,"y":3.35,"z":3.5},{"x":52.875,"y":3.35,"z":3.5},{"x":54.625,"y":3.35,"z":3.5},{"x":56.375,"y":3.35,"z":3.5},{"x":58.125,"y":3.35,"z":3.5},{"x":59.875,"y":3.35,"z":3.5},{"x":61.625,"y":3.35,"z":3.5},{"x":63.375,"y":3.35,"z":3.5},{"x":65.125,"y":3.35,"z":3.5},{"x":66.875,"y":3.35,"z":3.5},{"x":68.625,"y":3.35,"z":3.5},{"x":70.375,"y":3.35,"z":3.3},{"x":72.125,"y":3.35,"z":3.3},{"x":73.875,"y":3.35,"z":3.3},{"x":75.625,"y":3.35,"z":3.3},{"x":77.375,"y":3.35,"z":3.3},{"x":79.125,"y":3.35,"z":3.3},
{"x":10.875,"y":3.45,"z":6.5},{"x":12.625,"y":3.45,"z":5.9},{"x":14.375,"y":3.45,"z":5.5},{"x":16.125,"y":3.45,"z":5.1},{"x":17.875,"y":3.45,"z":4.9},{"x":19.625,"y":3.45,"z":4.7},{"x":21.375,"y":3.45,"z":4.5},{"x":23.125,"y":3.45,"z":4.5},{"x":24.875,"y":3.45,"z":4.3},{"x":26.625,"y":3.45,"z":4.3},{"x":28.375,"y":3.45,"z":4.1},{"x":30.125,"y":3.45,"z":4.1},{"x":31.875,"y":3.45,"z":3.9},{"x":33.625,"y":3.45,"z":3.9},{"x":35.375,"y":3.45,"z":3.9},{"x":37.125,"y":3.45,"z":3.9},{"x":38.875,"y":3.45,"z":3.7},{"x":40.625,"y":3.45,"z":3.7},{"x":42.375,"y":3.45,"z":3.7},{"x":44.125,"y":3.45,"z":3.7},{"x":45.875,"y":3.45,"z":3.7},{"x":47.625,"y":3.45,"z":3.7},{"x":49.375,"y":3.45,"z":3.5},{"x":51.125,"y":3.45,"z":3.5},{"x":52.875,"y":3.45,"z":3.5},{"x":54.625,"y":3.45,"z":3.5},{"x":56.375,"y":3.45,"z":3.5},{"x":58.125,"y":3.45,"z":3.5},{"x":59.875,"y":3.45,"z":3.5},{"x":61.625,"y":3.45,"z":3.5},{"x":63.375,"y":3.45,"z":3.5},{"x":65.125,"y":3.45,"z":3.5},{"x":66.875,"y":3.45,"z":3.5},{"x":68.625,"y":3.45,"z":3.5},{"x":70.375,"y":3.45,"z":3.3},{"x":72.125,"y":3.45,"z":3.3},{"x":73.875,"y":3.45,"z":3.3},{"x":75.625,"y":3.45,"z":3.3},{"x":77.375,"y":3.45,"z":3.3},{"x":79.125,"y":3.45,"z":3.3},
{"x":10.875,"y":3.55,"z":6.5},{"x":12.625,"y":3.55,"z":5.9},{"x":14.375,"y":3.55,"z":5.5},{"x":16.125,"y":3.55,"z":5.1},{"x":17.875,"y":3.55,"z":4.9},{"x":19.625,"y":3.55,"z":4.7},{"x":21.375,"y":3.55,"z":4.5},{"x":23.125,"y":3.55,"z":4.5},{"x":24.875,"y":3.55,"z":4.3},{"x":26.625,"y":3.55,"z":4.3},{"x":28.375,"y":3.55,"z":4.1},{"x":30.125,"y":3.55,"z":4.1},{"x":31.875,"y":3.55,"z":3.9},{"x":33.625,"y":3.55,"z":3.7},{"x":35.375,"y":3.55,"z":3.7},{"x":37.125,"y":3.55,"z":3.7},{"x":38.875,"y":3.55,"z":3.7},{"x":40.625,"y":3.55,"z":3.5},{"x":42.375,"y":3.55,"z":3.5},{"x":44.125,"y":3.55,"z":3.5},{"x":45.875,"y":3.55,"z":3.5},{"x":47.625,"y":3.55,"z":3.5},{"x":49.375,"y":3.55,"z":3.5},{"x":51.125,"y":3.55,"z":3.5},{"x":52.875,"y":3.55,"z":3.5},{"x":54.625,"y":3.55,"z":3.5},{"x":56.375,"y":3.55,"z":3.3},{"x":58.125,"y":3.55,"z":3.3},{"x":59.875,"y":3.55,"z":3.3},{"x":61.625,"y":3.55,"z":3.3},{"x":63.375,"y":3.55,"z":3.3},{"x":65.125,"y":3.55,"z":3.3},{"x":66.875,"y":3.55,"z":3.3},{"x":68.625,"y":3.55,"z":3.3},{"x":70.375,"y":3.55,"z":3.3},{"x":72.125,"y":3.55,"z":3.3},{"x":73.875,"y":3.55,"z":3.3},{"x":75.625,"y":3.55,"z":3.3},{"x":77.375,"y":3.55,"z":3.3},{"x":79.125,"y":3.55,"z":3.3},
{"x":10.875,"y":3.65,"z":6.5},{"x":12.625,"y":3.65,"z":5.9},{"x":14.375,"y":3.65,"z":5.5},{"x":16.125,"y":3.65,"z":5.3},{"x":17.875,"y":3.65,"z":4.9},{"x":19.625,"y":3.65,"z":4.7},{"x":21.375,"y":3.65,"z":4.5},{"x":23.125,"y":3.65,"z":4.3},{"x":24.875,"y":3.65,"z":4.3},{"x":26.625,"y":3.65,"z":4.1},{"x":28.375,"y":3.65,"z":4.1},{"x":30.125,"y":3.65,"z":3.9},{"x":31.875,"y":3.65,"z":3.7},{"x":33.625,"y":3.65,"z":3.7},{"x":35.375,"y":3.65,"z":3.7},{"x":37.125,"y":3.65,"z":3.7},{"x":38.875,"y":3.65,"z":3.5},{"x":40.625,"y":3.65,"z":3.5},{"x":42.375,"y":3.65,"z":3.5},{"x":44.125,"y":3.65,"z":3.5},{"x":45.875,"y":3.65,"z":3.5},{"x":47.625,"y":3.65,"z":3.3},{"x":49.375,"y":3.65,"z":3.3},{"x":51.125,"y":3.65,"z":3.3},{"x":52.875,"y":3.65,"z":3.3},{"x":54.625,"y":3.65,"z":3.3},{"x":56.375,"y":3.65,"z":3.3},{"x":58.125,"y":3.65,"z":3.3},{"x":59.875,"y":3.65,"z":3.3},{"x":61.625,"y":3.65,"z":3.3},{"x":63.375,"y":3.65,"z":3.3},{"x":65.125,"y":3.65,"z":3.1},{"x":66.875,"y":3.65,"z":3.1},{"x":68.625,"y":3.65,"z":3.1},{"x":70.375,"y":3.65,"z":3.1},{"x":72.125,"y":3.65,"z":3.1},{"x":73.875,"y":3.65,"z":3.1},{"x":75.625,"y":3.65,"z":3.1},{"x":77.375,"y":3.65,"z":3.1},{"x":79.125,"y":3.65,"z":3.1},
{"x":10.875,"y":3.75,"z":6.5},{"x":12.625,"y":3.75,"z":5.9},{"x":14.375,"y":3.75,"z":5.5},{"x":16.125,"y":3.75,"z":5.1},{"x":17.875,"y":3.75,"z":4.9},{"x":19.625,"y":3.75,"z":4.7},{"x":21.375,"y":3.75,"z":4.5},{"x":23.125,"y":3.75,"z":4.3},{"x":24.875,"y":3.75,"z":4.1},{"x":26.625,"y":3.75,"z":4.1},{"x":28.375,"y":3.75,"z":3.9},{"x":30.125,"y":3.75,"z":3.9},{"x":31.875,"y":3.75,"z":3.7},{"x":33.625,"y":3.75,"z":3.7},{"x":35.375,"y":3.75,"z":3.5},{"x":37.125,"y":3.75,"z":3.5},{"x":38.875,"y":3.75,"z":3.5},{"x":40.625,"y":3.75,"z":3.5},{"x":42.375,"y":3.75,"z":3.5},{"x":44.125,"y":3.75,"z":3.3},{"x":45.875,"y":3.75,"z":3.3},{"x":47.625,"y":3.75,"z":3.3},{"x":49.375,"y":3.75,"z":3.3},{"x":51.125,"y":3.75,"z":3.3},{"x":52.875,"y":3.75,"z":3.3},{"x":54.625,"y":3.75,"z":3.3},{"x":56.375,"y":3.75,"z":3.1},{"x":58.125,"y":3.75,"z":3.1},{"x":59.875,"y":3.75,"z":3.1},{"x":61.625,"y":3.75,"z":3.1},{"x":63.375,"y":3.75,"z":3.1},{"x":65.125,"y":3.75,"z":3.1},{"x":66.875,"y":3.75,"z":3.1},{"x":68.625,"y":3.75,"z":3.1},{"x":70.375,"y":3.75,"z":3.1},{"x":72.125,"y":3.75,"z":3.1},{"x":73.875,"y":3.75,"z":3.1},{"x":75.625,"y":3.75,"z":3.1},{"x":77.375,"y":3.75,"z":3.1},{"x":79.125,"y":3.75,"z":3.1},
{"x":10.875,"y":3.85,"z":6.5},{"x":12.625,"y":3.85,"z":5.7},{"x":14.375,"y":3.85,"z":5.5},{"x":16.125,"y":3.85,"z":5.1},{"x":17.875,"y":3.85,"z":4.9},{"x":19.625,"y":3.85,"z":4.7},{"x":21.375,"y":3.85,"z":4.5},{"x":23.125,"y":3.85,"z":4.3},{"x":24.875,"y":3.85,"z":4.1},{"x":26.625,"y":3.85,"z":3.9},{"x":28.375,"y":3.85,"z":3.9},{"x":30.125,"y":3.85,"z":3.7},{"x":31.875,"y":3.85,"z":3.7},{"x":33.625,"y":3.85,"z":3.5},{"x":35.375,"y":3.85,"z":3.5},{"x":37.125,"y":3.85,"z":3.5},{"x":38.875,"y":3.85,"z":3.5},{"x":40.625,"y":3.85,"z":3.3},{"x":42.375,"y":3.85,"z":3.3},{"x":44.125,"y":3.85,"z":3.3},{"x":45.875,"y":3.85,"z":3.3},{"x":47.625,"y":3.85,"z":3.3},{"x":49.375,"y":3.85,"z":3.3},{"x":51.125,"y":3.85,"z":3.1},{"x":52.875,"y":3.85,"z":3.1},{"x":54.625,"y":3.85,"z":3.1},{"x":56.375,"y":3.85,"z":3.1},{"x":58.125,"y":3.85,"z":3.1},{"x":59.875,"y":3.85,"z":3.1},{"x":61.625,"y":3.85,"z":3.1},{"x":63.375,"y":3.85,"z":3.1},{"x":65.125,"y":3.85,"z":3.1},{"x":66.875,"y":3.85,"z":3.1},{"x":68.625,"y":3.85,"z":3.1},{"x":70.375,"y":3.85,"z":3.1},{"x":72.125,"y":3.85,"z":3.1},{"x":73.875,"y":3.85,"z":2.9},{"x":75.625,"y":3.85,"z":2.9},{"x":77.375,"y":3.85,"z":2.9},{"x":79.125,"y":3.85,"z":2.9},
{"x":10.875,"y":3.95,"z":6.3},{"x":12.625,"y":3.95,"z":5.5},{"x":14.375,"y":3.95,"z":5.3},{"x":16.125,"y":3.95,"z":5.1},{"x":17.875,"y":3.95,"z":4.7},{"x":19.625,"y":3.95,"z":4.5},{"x":21.375,"y":3.95,"z":4.3},{"x":23.125,"y":3.95,"z":4.1},{"x":24.875,"y":3.95,"z":4.1},{"x":26.625,"y":3.95,"z":3.9},{"x":28.375,"y":3.95,"z":3.7},{"x":30.125,"y":3.95,"z":3.7},{"x":31.875,"y":3.95,"z":3.5},{"x":33.625,"y":3.95,"z":3.5},{"x":35.375,"y":3.95,"z":3.5},{"x":37.125,"y":3.95,"z":3.5},{"x":38.875,"y":3.95,"z":3.3},{"x":40.625,"y":3.95,"z":3.3},{"x":42.375,"y":3.95,"z":3.3},{"x":44.125,"y":3.95,"z":3.3},{"x":45.875,"y":3.95,"z":3.3},{"x":47.625,"y":3.95,"z":3.1},{"x":49.375,"y":3.95,"z":3.1},{"x":51.125,"y":3.95,"z":3.1},{"x":52.875,"y":3.95,"z":3.1},{"x":54.625,"y":3.95,"z":3.1},{"x":56.375,"y":3.95,"z":3.1},{"x":58.125,"y":3.95,"z":3.1},{"x":59.875,"y":3.95,"z":3.1},{"x":61.625,"y":3.95,"z":3.1},{"x":63.375,"y":3.95,"z":3.1},{"x":65.125,"y":3.95,"z":2.9},{"x":66.875,"y":3.95,"z":2.9},{"x":68.625,"y":3.95,"z":2.9},{"x":70.375,"y":3.95,"z":2.9},{"x":72.125,"y":3.95,"z":2.9},{"x":73.875,"y":3.95,"z":2.9},{"x":75.625,"y":3.95,"z":2.9},{"x":77.375,"y":3.95,"z":2.9},{"x":79.125,"y":3.95,"z":2.9},
{"x":10.875,"y":4.05,"z":6.1},{"x":12.625,"y":4.05,"z":5.5},{"x":14.375,"y":4.05,"z":5.3},{"x":16.125,"y":4.05,"z":4.9},{"x":17.875,"y":4.05,"z":4.7},{"x":19.625,"y":4.05,"z":4.5},{"x":21.375,"y":4.05,"z":4.3},{"x":23.125,"y":4.05,"z":4.1},{"x":24.875,"y":4.05,"z":4.1},{"x":26.625,"y":4.05,"z":3.9},{"x":28.375,"y":4.05,"z":3.7},{"x":30.125,"y":4.05,"z":3.7},{"x":31.875,"y":4.05,"z":3.5},{"x":33.625,"y":4.05,"z":3.5},{"x":35.375,"y":4.05,"z":3.3},{"x":37.125,"y":4.05,"z":3.3},{"x":38.875,"y":4.05,"z":3.3},{"x":40.625,"y":4.05,"z":3.3},{"x":42.375,"y":4.05,"z":3.3},{"x":44.125,"y":4.05,"z":3.1},{"x":45.875,"y":4.05,"z":3.1},{"x":47.625,"y":4.05,"z":3.1},{"x":49.375,"y":4.05,"z":3.1},{"x":51.125,"y":4.05,"z":3.1},{"x":52.875,"y":4.05,"z":3.1},{"x":54.625,"y":4.05,"z":3.1},{"x":56.375,"y":4.05,"z":3.1},{"x":58.125,"y":4.05,"z":2.9},{"x":59.875,"y":4.05,"z":2.9},{"x":61.625,"y":4.05,"z":2.9},{"x":63.375,"y":4.05,"z":2.9},{"x":65.125,"y":4.05,"z":2.9},{"x":66.875,"y":4.05,"z":2.9},{"x":68.625,"y":4.05,"z":2.9},{"x":70.375,"y":4.05,"z":2.9},{"x":72.125,"y":4.05,"z":2.9},{"x":73.875,"y":4.05,"z":2.9},{"x":75.625,"y":4.05,"z":2.9},{"x":77.375,"y":4.05,"z":2.9},{"x":79.125,"y":4.05,"z":2.9},
{"x":10.875,"y":4.15,"z":6.1},{"x":12.625,"y":4.15,"z":5.5},{"x":14.375,"y":4.15,"z":5.3},{"x":16.125,"y":4.15,"z":4.9},{"x":17.875,"y":4.15,"z":4.7},{"x":19.625,"y":4.15,"z":4.5},{"x":21.375,"y":4.15,"z":4.3},{"x":23.125,"y":4.15,"z":4.1},{"x":24.875,"y":4.15,"z":3.9},{"x":26.625,"y":4.15,"z":3.7},{"x":28.375,"y":4.15,"z":3.7},{"x":30.125,"y":4.15,"z":3.5},{"x":31.875,"y":4.15,"z":3.5},{"x":33.625,"y":4.15,"z":3.5},{"x":35.375,"y":4.15,"z":3.3},{"x":37.125,"y":4.15,"z":3.3},{"x":38.875,"y":4.15,"z":3.3},{"x":40.625,"y":4.15,"z":3.3},{"x":42.375,"y":4.15,"z":3.1},{"x":44.125,"y":4.15,"z":3.1},{"x":45.875,"y":4.15,"z":3.1},{"x":47.625,"y":4.15,"z":3.1},{"x":49.375,"y":4.15,"z":3.1},{"x":51.125,"y":4.15,"z":3.1},{"x":52.875,"y":4.15,"z":2.9},{"x":54.625,"y":4.15,"z":2.9},{"x":56.375,"y":4.15,"z":2.9},{"x":58.125,"y":4.15,"z":2.9},{"x":59.875,"y":4.15,"z":2.9},{"x":61.625,"y":4.15,"z":2.9},{"x":63.375,"y":4.15,"z":2.9},{"x":65.125,"y":4.15,"z":2.9},{"x":66.875,"y":4.15,"z":2.9},{"x":68.625,"y":4.15,"z":2.9},{"x":70.375,"y":4.15,"z":2.9},{"x":72.125,"y":4.15,"z":2.9},{"x":73.875,"y":4.15,"z":2.9},{"x":75.625,"y":4.15,"z":2.7},{"x":77.375,"y":4.15,"z":2.7},{"x":79.125,"y":4.15,"z":2.7},
{"x":10.875,"y":4.25,"z":5.9},{"x":12.625,"y":4.25,"z":5.5},{"x":14.375,"y":4.25,"z":5.1},{"x":16.125,"y":4.25,"z":4.9},{"x":17.875,"y":4.25,"z":4.7},{"x":19.625,"y":4.25,"z":4.5},{"x":21.375,"y":4.25,"z":4.3},{"x":23.125,"y":4.25,"z":4.1},{"x":24.875,"y":4.25,"z":3.9},{"x":26.625,"y":4.25,"z":3.7},{"x":28.375,"y":4.25,"z":3.7},{"x":30.125,"y":4.25,"z":3.5},{"x":31.875,"y":4.25,"z":3.5},{"x":33.625,"y":4.25,"z":3.3},{"x":35.375,"y":4.25,"z":3.3},{"x":37.125,"y":4.25,"z":3.3},{"x":38.875,"y":4.25,"z":3.1},{"x":40.625,"y":4.25,"z":3.1},{"x":42.375,"y":4.25,"z":3.1},{"x":44.125,"y":4.25,"z":3.1},{"x":45.875,"y":4.25,"z":3.1},{"x":47.625,"y":4.25,"z":3.1},{"x":49.375,"y":4.25,"z":2.9},{"x":51.125,"y":4.25,"z":2.9},{"x":52.875,"y":4.25,"z":2.9},{"x":54.625,"y":4.25,"z":2.9},{"x":56.375,"y":4.25,"z":2.9},{"x":58.125,"y":4.25,"z":2.9},{"x":59.875,"y":4.25,"z":2.9},{"x":61.625,"y":4.25,"z":2.9},{"x":63.375,"y":4.25,"z":2.9},{"x":65.125,"y":4.25,"z":2.9},{"x":66.875,"y":4.25,"z":2.9},{"x":68.625,"y":4.25,"z":2.7},{"x":70.375,"y":4.25,"z":2.7},{"x":72.125,"y":4.25,"z":2.7},{"x":73.875,"y":4.25,"z":2.7},{"x":75.625,"y":4.25,"z":2.7},{"x":77.375,"y":4.25,"z":2.7},{"x":79.125,"y":4.25,"z":2.7},
{"x":10.875,"y":4.35,"z":5.9},{"x":12.625,"y":4.35,"z":5.3},{"x":14.375,"y":4.35,"z":5.1},{"x":16.125,"y":4.35,"z":4.9},{"x":17.875,"y":4.35,"z":4.5},{"x":19.625,"y":4.35,"z":4.3},{"x":21.375,"y":4.35,"z":4.1},{"x":23.125,"y":4.35,"z":3.9},{"x":24.875,"y":4.35,"z":3.7},{"x":26.625,"y":4.35,"z":3.7},{"x":28.375,"y":4.35,"z":3.5},{"x":30.125,"y":4.35,"z":3.5},{"x":31.875,"y":4.35,"z":3.3},{"x":33.625,"y":4.35,"z":3.3},{"x":35.375,"y":4.35,"z":3.3},{"x":37.125,"y":4.35,"z":3.1},{"x":38.875,"y":4.35,"z":3.1},{"x":40.625,"y":4.35,"z":3.1},{"x":42.375,"y":4.35,"z":3.1},{"x":44.125,"y":4.35,"z":3.1},{"x":45.875,"y":4.35,"z":3.1},{"x":47.625,"y":4.35,"z":2.9},{"x":49.375,"y":4.35,"z":2.9},{"x":51.125,"y":4.35,"z":2.9},{"x":52.875,"y":4.35,"z":2.9},{"x":54.625,"y":4.35,"z":2.9},{"x":56.375,"y":4.35,"z":2.9},{"x":58.125,"y":4.35,"z":2.9},{"x":59.875,"y":4.35,"z":2.9},{"x":61.625,"y":4.35,"z":2.9},{"x":63.375,"y":4.35,"z":2.9},{"x":65.125,"y":4.35,"z":2.7},{"x":66.875,"y":4.35,"z":2.7},{"x":68.625,"y":4.35,"z":2.7},{"x":70.375,"y":4.35,"z":2.7},{"x":72.125,"y":4.35,"z":2.7},{"x":73.875,"y":4.35,"z":2.7},{"x":75.625,"y":4.35,"z":2.7},{"x":77.375,"y":4.35,"z":2.7},{"x":79.125,"y":4.35,"z":2.7},
{"x":10.875,"y":4.45,"z":5.9},{"x":12.625,"y":4.45,"z":5.3},{"x":14.375,"y":4.45,"z":5.1},{"x":16.125,"y":4.45,"z":4.7},{"x":17.875,"y":4.45,"z":4.5},{"x":19.625,"y":4.45,"z":4.3},{"x":21.375,"y":4.45,"z":4.1},{"x":23.125,"y":4.45,"z":3.9},{"x":24.875,"y":4.45,"z":3.7},{"x":26.625,"y":4.45,"z":3.7},{"x":28.375,"y":4.45,"z":3.5},{"x":30.125,"y":4.45,"z":3.5},{"x":31.875,"y":4.45,"z":3.3},{"x":33.625,"y":4.45,"z":3.3},{"x":35.375,"y":4.45,"z":3.3},{"x":37.125,"y":4.45,"z":3.1},{"x":38.875,"y":4.45,"z":3.1},{"x":40.625,"y":4.45,"z":3.1},{"x":42.375,"y":4.45,"z":3.1},{"x":44.125,"y":4.45,"z":2.9},{"x":45.875,"y":4.45,"z":2.9},{"x":47.625,"y":4.45,"z":2.9},{"x":49.375,"y":4.45,"z":2.9},{"x":51.125,"y":4.45,"z":2.9},{"x":52.875,"y":4.45,"z":2.9},{"x":54.625,"y":4.45,"z":2.9},{"x":56.375,"y":4.45,"z":2.9},{"x":58.125,"y":4.45,"z":2.9},{"x":59.875,"y":4.45,"z":2.7},{"x":61.625,"y":4.45,"z":2.7},{"x":63.375,"y":4.45,"z":2.7},{"x":65.125,"y":4.45,"z":2.7},{"x":66.875,"y":4.45,"z":2.7},{"x":68.625,"y":4.45,"z":2.7},{"x":70.375,"y":4.45,"z":2.7},{"x":72.125,"y":4.45,"z":2.7},{"x":73.875,"y":4.45,"z":2.7},{"x":75.625,"y":4.45,"z":2.7},{"x":77.375,"y":4.45,"z":2.7},{"x":79.125,"y":4.45,"z":2.7},
{"x":10.875,"y":4.55,"z":5.9},{"x":12.625,"y":4.55,"z":5.3},{"x":14.375,"y":4.55,"z":5.1},{"x":16.125,"y":4.55,"z":4.7},{"x":17.875,"y":4.55,"z":4.5},{"x":19.625,"y":4.55,"z":4.3},{"x":21.375,"y":4.55,"z":4.1},{"x":23.125,"y":4.55,"z":3.9},{"x":24.875,"y":4.55,"z":3.7},{"x":26.625,"y":4.55,"z":3.5},{"x":28.375,"y":4.55,"z":3.5},{"x":30.125,"y":4.55,"z":3.3},{"x":31.875,"y":4.55,"z":3.3},{"x":33.625,"y":4.55,"z":3.3},{"x":35.375,"y":4.55,"z":3.1},{"x":37.125,"y":4.55,"z":3.1},{"x":38.875,"y":4.55,"z":3.1},{"x":40.625,"y":4.55,"z":3.1},{"x":42.375,"y":4.55,"z":2.9},{"x":44.125,"y":4.55,"z":2.9},{"x":45.875,"y":4.55,"z":2.9},{"x":47.625,"y":4.55,"z":2.9},{"x":49.375,"y":4.55,"z":2.9},{"x":51.125,"y":4.55,"z":2.9},{"x":52.875,"y":4.55,"z":2.7},{"x":54.625,"y":4.55,"z":2.7},{"x":56.375,"y":4.55,"z":2.7},{"x":58.125,"y":4.55,"z":2.7},{"x":59.875,"y":4.55,"z":2.7},{"x":61.625,"y":4.55,"z":2.7},{"x":63.375,"y":4.55,"z":2.7},{"x":65.125,"y":4.55,"z":2.7},{"x":66.875,"y":4.55,"z":2.7},{"x":68.625,"y":4.55,"z":2.7},{"x":70.375,"y":4.55,"z":2.7},{"x":72.125,"y":4.55,"z":2.7},{"x":73.875,"y":4.55,"z":2.5},{"x":75.625,"y":4.55,"z":2.5},{"x":77.375,"y":4.55,"z":2.5},{"x":79.125,"y":4.55,"z":2.5},
{"x":10.875,"y":4.65,"z":5.7},{"x":12.625,"y":4.65,"z":5.3},{"x":14.375,"y":4.65,"z":5.1},{"x":16.125,"y":4.65,"z":4.7},{"x":17.875,"y":4.65,"z":4.5},{"x":19.625,"y":4.65,"z":4.3},{"x":21.375,"y":4.65,"z":3.9},{"x":23.125,"y":4.65,"z":3.7},{"x":24.875,"y":4.65,"z":3.5},{"x":26.625,"y":4.65,"z":3.5},{"x":28.375,"y":4.65,"z":3.3},{"x":30.125,"y":4.65,"z":3.3},{"x":31.875,"y":4.65,"z":3.3},{"x":33.625,"y":4.65,"z":3.1},{"x":35.375,"y":4.65,"z":3.1},{"x":37.125,"y":4.65,"z":3.1},{"x":38.875,"y":4.65,"z":3.1},{"x":40.625,"y":4.65,"z":2.9},{"x":42.375,"y":4.65,"z":2.9},{"x":44.125,"y":4.65,"z":2.9},{"x":45.875,"y":4.65,"z":2.9},{"x":47.625,"y":4.65,"z":2.9},{"x":49.375,"y":4.65,"z":2.7},{"x":51.125,"y":4.65,"z":2.7},{"x":52.875,"y":4.65,"z":2.7},{"x":54.625,"y":4.65,"z":2.7},{"x":56.375,"y":4.65,"z":2.7},{"x":58.125,"y":4.65,"z":2.7},{"x":59.875,"y":4.65,"z":2.7},{"x":61.625,"y":4.65,"z":2.7},{"x":63.375,"y":4.65,"z":2.7},{"x":65.125,"y":4.65,"z":2.7},{"x":66.875,"y":4.65,"z":2.7},{"x":68.625,"y":4.65,"z":2.5},{"x":70.375,"y":4.65,"z":2.5},{"x":72.125,"y":4.65,"z":2.5},{"x":73.875,"y":4.65,"z":2.5},{"x":75.625,"y":4.65,"z":2.5},{"x":77.375,"y":4.65,"z":2.5},{"x":79.125,"y":4.65,"z":2.5},
{"x":10.875,"y":4.75,"z":5.7},{"x":12.625,"y":4.75,"z":5.3},{"x":14.375,"y":4.75,"z":4.9},{"x":16.125,"y":4.75,"z":4.7},{"x":17.875,"y":4.75,"z":4.5},{"x":19.625,"y":4.75,"z":4.1},{"x":21.375,"y":4.75,"z":3.9},{"x":23.125,"y":4.75,"z":3.7},{"x":24.875,"y":4.75,"z":3.5},{"x":26.625,"y":4.75,"z":3.5},{"x":28.375,"y":4.75,"z":3.3},{"x":30.125,"y":4.75,"z":3.3},{"x":31.875,"y":4.75,"z":3.1},{"x":33.625,"y":4.75,"z":3.1},{"x":35.375,"y":4.75,"z":3.1},{"x":37.125,"y":4.75,"z":3.1},{"x":38.875,"y":4.75,"z":2.9},{"x":40.625,"y":4.75,"z":2.9},{"x":42.375,"y":4.75,"z":2.9},{"x":44.125,"y":4.75,"z":2.9},{"x":45.875,"y":4.75,"z":2.9},{"x":47.625,"y":4.75,"z":2.7},{"x":49.375,"y":4.75,"z":2.7},{"x":51.125,"y":4.75,"z":2.7},{"x":52.875,"y":4.75,"z":2.7},{"x":54.625,"y":4.75,"z":2.7},{"x":56.375,"y":4.75,"z":2.7},{"x":58.125,"y":4.75,"z":2.7},{"x":59.875,"y":4.75,"z":2.7},{"x":61.625,"y":4.75,"z":2.7},{"x":63.375,"y":4.75,"z":2.7},{"x":65.125,"y":4.75,"z":2.5},{"x":66.875,"y":4.75,"z":2.5},{"x":68.625,"y":4.75,"z":2.5},{"x":70.375,"y":4.75,"z":2.5},{"x":72.125,"y":4.75,"z":2.5},{"x":73.875,"y":4.75,"z":2.5},{"x":75.625,"y":4.75,"z":2.5},{"x":77.375,"y":4.75,"z":2.5},{"x":79.125,"y":4.75,"z":2.5},
{"x":10.875,"y":4.85,"z":5.7},{"x":12.625,"y":4.85,"z":5.1},{"x":14.375,"y":4.85,"z":4.9},{"x":16.125,"y":4.85,"z":4.7},{"x":17.875,"y":4.85,"z":4.3},{"x":19.625,"y":4.85,"z":4.1},{"x":21.375,"y":4.85,"z":3.7},{"x":23.125,"y":4.85,"z":3.7},{"x":24.875,"y":4.85,"z":3.5},{"x":26.625,"y":4.85,"z":3.3},{"x":28.375,"y":4.85,"z":3.3},{"x":30.125,"y":4.85,"z":3.3},{"x":31.875,"y":4.85,"z":3.1},{"x":33.625,"y":4.85,"z":3.1},{"x":35.375,"y":4.85,"z":3.1},{"x":37.125,"y":4.85,"z":2.9},{"x":38.875,"y":4.85,"z":2.9},{"x":40.625,"y":4.85,"z":2.9},{"x":42.375,"y":4.85,"z":2.9},{"x":44.125,"y":4.85,"z":2.9},{"x":45.875,"y":4.85,"z":2.7},{"x":47.625,"y":4.85,"z":2.7},{"x":49.375,"y":4.85,"z":2.7},{"x":51.125,"y":4.85,"z":2.7},{"x":52.875,"y":4.85,"z":2.7},{"x":54.625,"y":4.85,"z":2.7},{"x":56.375,"y":4.85,"z":2.7},{"x":58.125,"y":4.85,"z":2.7},{"x":59.875,"y":4.85,"z":2.7},{"x":61.625,"y":4.85,"z":2.5},{"x":63.375,"y":4.85,"z":2.5},{"x":65.125,"y":4.85,"z":2.5},{"x":66.875,"y":4.85,"z":2.5},{"x":68.625,"y":4.85,"z":2.5},{"x":70.375,"y":4.85,"z":2.5},{"x":72.125,"y":4.85,"z":2.5},{"x":73.875,"y":4.85,"z":2.5},{"x":75.625,"y":4.85,"z":2.5},{"x":77.375,"y":4.85,"z":2.5},{"x":79.125,"y":4.85,"z":2.5},
{"x":10.875,"y":4.95,"z":5.7},{"x":12.625,"y":4.95,"z":5.1},{"x":14.375,"y":4.95,"z":4.9},{"x":16.125,"y":4.95,"z":4.3},{"x":17.875,"y":4.95,"z":4.1},{"x":19.625,"y":4.95,"z":4.1},{"x":21.375,"y":4.95,"z":3.7},{"x":23.125,"y":4.95,"z":3.5},{"x":24.875,"y":4.95,"z":3.5},{"x":26.625,"y":4.95,"z":3.3},{"x":28.375,"y":4.95,"z":3.3},{"x":30.125,"y":4.95,"z":3.1},{"x":31.875,"y":4.95,"z":3.1},{"x":33.625,"y":4.95,"z":3.1},{"x":35.375,"y":4.95,"z":2.9},{"x":37.125,"y":4.95,"z":2.9},{"x":38.875,"y":4.95,"z":2.9},{"x":40.625,"y":4.95,"z":2.9},{"x":42.375,"y":4.95,"z":2.9},{"x":44.125,"y":4.95,"z":2.7},{"x":45.875,"y":4.95,"z":2.7},{"x":47.625,"y":4.95,"z":2.7},{"x":49.375,"y":4.95,"z":2.7},{"x":51.125,"y":4.95,"z":2.7},{"x":52.875,"y":4.95,"z":2.7},{"x":54.625,"y":4.95,"z":2.7},{"x":56.375,"y":4.95,"z":2.5},{"x":58.125,"y":4.95,"z":2.5},{"x":59.875,"y":4.95,"z":2.5},{"x":61.625,"y":4.95,"z":2.5},{"x":63.375,"y":4.95,"z":2.5},{"x":65.125,"y":4.95,"z":2.5},{"x":66.875,"y":4.95,"z":2.5},{"x":68.625,"y":4.95,"z":2.5},{"x":70.375,"y":4.95,"z":2.5},{"x":72.125,"y":4.95,"z":2.5},{"x":73.875,"y":4.95,"z":2.5},{"x":75.625,"y":4.95,"z":2.5},{"x":77.375,"y":4.95,"z":2.5},{"x":79.125,"y":4.95,"z":2.5}
],"levels":[{"z":2.5},{"z":2.7},{"z":2.89},{"z":3.09},{"z":3.29},{"z":3.49},{"z":3.68},{"z":3.88},{"z":4.08},{"z":4.28},{"z":4.48},{"z":4.67},{"z":4.87},{"z":5.07},{"z":5.27},{"z":5.46},{"z":5.66},{"z":5.86},{"z":6.06},{"z":6.25},{"z":6.45},{"z":6.65},{"z":6.85},{"z":7.04},{"z":7.24},{"z":7.44},{"z":7.64},{"z":7.83},{"z":8.03},{"z":8.23},{"z":8.43},{"z":8.62},{"z":8.82},{"z":9.02},{"z":9.22},{"z":9.41},{"z":9.61},{"z":9.81},{"z":10.01},{"z":10.21},{"z":10.4},{"z":10.6},{"z":10.8},{"z":11},{"z":11.19},{"z":11.39},{"z":11.59},{"z":11.79},{"z":11.98},{"z":12.18}],"contour":[{"x":32.9,"y":5.0},{"x":35.2,"y":4.82},{"x":37.9,"y":4.64},{"x":40.1,"y":4.48},{"x":42.3,"y":4.36},{"x":45,"y":4.25},{"x":48.1,"y":4.17},{"x":51.2,"y":4.09},{"x":54.7,"y":4.01},{"x":58.3,"y":3.95},{"x":61.8,"y":3.88},{"x":65.4,"y":3.84},{"x":68.9,"y":3.8},{"x":73.3,"y":3.76},{"x":76.9,"y":3.74},{"x":80,"y":3.72}],"ymaj":[{"t":1.5},{"t":2},{"t":2.5},{"t":3},{"t":3.5},{"t":4},{"t":4.5}],"ymin":[{"t":1.1},{"t":1.2},{"t":1.3},{"t":1.4},{"t":1.6},{"t":1.7},{"t":1.8},{"t":1.9},{"t":2.1},{"t":2.2},{"t":2.3},{"t":2.4},{"t":2.6},{"t":2.7},{"t":2.8},{"t":2.9},{"t":3.1},{"t":3.2},{"t":3.3},{"t":3.4},{"t":3.6},{"t":3.7},{"t":3.8},{"t":3.9},{"t":4.1},{"t":4.2},{"t":4.3},{"t":4.4},{"t":4.6},{"t":4.7},{"t":4.8},{"t":4.9}],"xmaj":[{"t":20},{"t":30},{"t":40},{"t":50},{"t":60},{"t":70}],"xmin":[{"t":12},{"t":14},{"t":16},{"t":18},{"t":22},{"t":24},{"t":26},{"t":28},{"t":32},{"t":34},{"t":36},{"t":38},{"t":42},{"t":44},{"t":46},{"t":48},{"t":52},{"t":54},{"t":56},{"t":58},{"t":62},{"t":64},{"t":66},{"t":68},{"t":72},{"t":74},{"t":76},{"t":78}],"cticks":[{"t":3},{"t":4},{"t":5},{"t":6},{"t":7},{"t":8},{"t":9},{"t":10},{"t":11},{"t":12}],"edge":[{"t":80}]},"hconcat":[{"width":790,"height":605,"layer":[{"data":{"name":"cells"},"mark":{"type":"rect","width":20.8,"height":16.2,"clip":true},"encoding":{"x":{"field":"x","type":"quantitative","scale":{"domain":[10,80],"nice":false,"zero":false},"axis":{"values":[10,20,30,40,50,60,70],"format":"~g","title":"TOF Resolution (ps)","titleFontSize":33.5,"titleFontWeight":"normal","titlePadding":9,"titleX":391,"labelFontSize":27,"labelColor":"#222","titleColor":"#222","labelPadding":7,"tickSize":0,"grid":false,"domainColor":"#444","domainWidth":2,"labelFlush":false}},"y":{"field":"y","type":"quantitative","scale":{"domain":[1,5],"nice":false,"zero":false},"axis":{"values":[1,1.5,2,2.5,3,3.5,4,4.5],"format":"~g","title":"dE/dx Resolution (%)","titleFontSize":33.5,"titleFontWeight":"normal","titlePadding":27,"titleY":307,"labelFontSize":27,"labelColor":"#222","titleColor":"#222","labelPadding":5,"tickSize":0,"grid":false,"domainColor":"#444","domainWidth":2,"labelFlush":false}},"color":{"field":"z","type":"quantitative","legend":null,"scale":{"type":"quantize","domain":[2.4,12.28],"range":["#9200ff","#7a00ff","#6300ff","#4b00ff","#3300ff","#1b00ff","#0300ff","#0014ff","#002cff","#0044ff","#005cff","#0074ff","#008bff","#00a3ff","#00bbff","#00d3ff","#00ebff","#00fffc","#00ffe4","#00ffcc","#00ffb4","#00ff9c","#00ff85","#00ff6d","#00ff55","#00ff3d","#00ff25","#00ff0e","#0aff00","#22ff00","#3aff00","#52ff00","#69ff00","#81ff00","#99ff00","#b1ff00","#c9ff00","#e0ff00","#f8ff00","#ffee00","#ffd600","#ffbe00","#ffa700","#ff8f00","#ff7700","#ff5f00","#ff4700","#ff3000","#ff1800","#ff0000"]}}}},{"data":{"name":"contour"},"mark":{"type":"line","color":"#000","strokeWidth":2.6,"clip":true},"encoding":{"x":{"field":"x","type":"quantitative"},"y":{"field":"y","type":"quantitative"}}},{"data":{"name":"ymaj"},"mark":{"type":"rule","color":"#111","strokeWidth":1.2},"encoding":{"y":{"field":"t","type":"quantitative"},"x":{"datum":10,"type":"quantitative"},"x2":{"datum":12.28}}},{"data":{"name":"ymin"},"mark":{"type":"rule","color":"#111","strokeWidth":1.2},"encoding":{"y":{"field":"t","type":"quantitative"},"x":{"datum":10,"type":"quantitative"},"x2":{"datum":11.24}}},{"data":{"name":"xmaj"},"mark":{"type":"rule","color":"#222","strokeWidth":1.2},"encoding":{"x":{"field":"t","type":"quantitative"},"y":{"datum":1,"type":"quantitative"},"y2":{"datum":1.115}}},{"data":{"name":"xmin"},"mark":{"type":"rule","color":"#222","strokeWidth":1.2},"encoding":{"x":{"field":"t","type":"quantitative"},"y":{"datum":1,"type":"quantitative"},"y2":{"datum":1.055}}},{"data":{"name":"edge"},"mark":{"type":"rule","color":"#444","strokeWidth":2},"encoding":{"x":{"field":"t","type":"quantitative"}}}]},{"width":49,"height":605,"layer":[{"data":{"name":"levels"},"mark":{"type":"rect","height":13.2},"encoding":{"y":{"field":"z","type":"quantitative","scale":{"domain":[2.4,12.28],"nice":false,"zero":false},"axis":{"orient":"right","values":[3,4,5,6,7,8,9,10,11,12],"format":"d","title":null,"labelFontSize":27,"labelColor":"#222","labelPadding":6,"tickSize":0,"grid":false,"domainColor":"#555","domainWidth":2}},"x":{"datum":0,"type":"quantitative","scale":{"domain":[0,1]},"axis":null},"x2":{"datum":1},"color":{"field":"z","type":"quantitative","legend":null,"scale":{"type":"quantize","domain":[2.4,12.28],"range":["#9200ff","#7a00ff","#6300ff","#4b00ff","#3300ff","#1b00ff","#0300ff","#0014ff","#002cff","#0044ff","#005cff","#0074ff","#008bff","#00a3ff","#00bbff","#00d3ff","#00ebff","#00fffc","#00ffe4","#00ffcc","#00ffb4","#00ff9c","#00ff85","#00ff6d","#00ff55","#00ff3d","#00ff25","#00ff0e","#0aff00","#22ff00","#3aff00","#52ff00","#69ff00","#81ff00","#99ff00","#b1ff00","#c9ff00","#e0ff00","#f8ff00","#ffee00","#ffd600","#ffbe00","#ffa700","#ff8f00","#ff7700","#ff5f00","#ff4700","#ff3000","#ff1800","#ff0000"]}}}},{"data":{"name":"cticks"},"mark":{"type":"rule","color":"#111","strokeWidth":1.2},"encoding":{"y":{"field":"t","type":"quantitative"},"x":{"datum":0.475,"type":"quantitative","axis":null},"x2":{"datum":1}}},{"data":{"values":[{"t":"<S>","v":7.06,"a":2.55}]},"mark":{"type":"text","angle":270,"fontSize":36,"color":"#222"},"encoding":{"x":{"field":"a","type":"quantitative","axis":null},"y":{"field":"v","type":"quantitative"},"text":{"field":"t"}}},{"data":{"values":[{"t":"π k","v":7.82,"a":2.87}]},"mark":{"type":"text","angle":270,"fontSize":24,"color":"#222"},"encoding":{"x":{"field":"a","type":"quantitative","axis":null},"y":{"field":"v","type":"quantitative"},"text":{"field":"t"}}}]}]}
